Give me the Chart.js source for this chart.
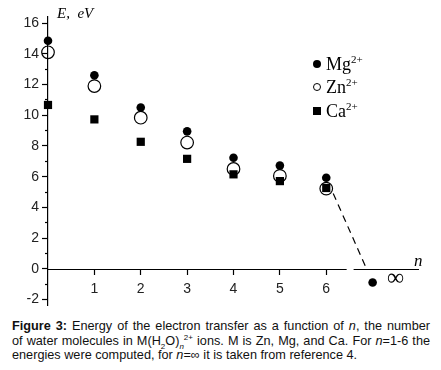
<!DOCTYPE html>
<html>
<head>
<meta charset="utf-8">
<script src="https://cdn.jsdelivr.net/npm/chart.js@4.4.0/dist/chart.umd.min.js"></script>
<style>
  html, body { margin: 0; padding: 0; background: #fff; }
  #wrap { position: relative; width: 441px; height: 370px; overflow: hidden; }
  #chartBox { position: absolute; left: 0; top: 2px; width: 441px; height: 315px; }
  .lbl { position: absolute; font-family: "Liberation Serif", "DejaVu Serif", serif; color: #000; white-space: nowrap; }
  #yTitle { left: 57px; top: 5px; font-size: 15px; font-style: italic; }
  #nTitle { left: 414px; top: 251px; font-size: 17px; font-style: italic; }
  #inf { left: 387px; top: 264px; font-size: 24px; }
  .leg { position: absolute; left: 311px; height: 20px; line-height: 20px; font-family: "Liberation Serif", serif; font-size: 18px; color: #000; white-space: nowrap; }
  .leg sup { font-size: 11px; vertical-align: 7px; line-height: 0; }
  .mk { position: absolute; left: 2px; top: 6px; box-sizing: border-box; }
  .mk.fill { width: 8px; height: 8px; border-radius: 50%; background: #000; }
  .mk.open { width: 8px; height: 8px; border-radius: 50%; border: 1px solid #000; }
  .mk.sq { width: 8px; height: 8px; background: #000; }
  .leg span.t { position: absolute; left: 15px; top: 0; }
  #caption { position: absolute; left: 12px; top: 319px; width: 418px; font-family: "Liberation Sans", Arial, sans-serif; font-size: 12.7px; line-height: 14.7px; color: #111; }
  #caption div { white-space: nowrap; }
  #caption .j { text-align: justify; text-align-last: justify; }
  #caption sub, #caption sup { font-size: 8px; line-height: 0; }
</style>
</head>
<body>
<div id="wrap">
  <div id="chartBox"><canvas id="energyChart"></canvas></div>
  <div class="lbl" id="yTitle">E,&nbsp; eV</div>
  <div class="lbl" id="nTitle">n</div>
  <div class="lbl" id="inf">∞</div>
  <div class="leg" style="top:54px"><i class="mk fill"></i><span class="t">Mg<sup>2+</sup></span></div>
  <div class="leg" style="top:77px"><i class="mk open"></i><span class="t">Zn<sup>2+</sup></span></div>
  <div class="leg" style="top:101px"><i class="mk sq"></i><span class="t">Ca<sup>2+</sup></span></div>
  <div id="caption">
    <div class="j"><b>Figure 3:</b> Energy of the electron transfer as a function of <i>n</i>, the number</div>
    <div class="j">of water molecules in M(H<sub>2</sub>O)<sub><i>n</i></sub><sup>2+</sup> ions. M is Zn, Mg, and Ca. For <i>n</i>=1-6 the</div>
    <div>energies were computed, for <i>n</i>=∞ it is taken from reference 4.</div>
  </div>
</div>
<script>
// number of water molecules
const nValues = [0, 1, 2, 3, 4, 5, 6];
// electron transfer energy, eV
const mgEnergy = [14.85, 12.6, 10.5, 8.95, 7.23, 6.72, 5.93];
const znEnergy = [14.1, 11.9, 9.84, 8.22, 6.5, 6.05, 5.22];
const caEnergy = [10.67, 9.73, 8.27, 7.16, 6.15, 5.71, 5.26];
// n = infinity (reference 4), drawn past n = 6
const nInf = 7;
const mgInfEnergy = -0.9;

const xTicks = [1, 2, 3, 4, 5, 6];
const yTicks = [-2, 0, 2, 4, 6, 8, 10, 12, 14, 16];
const yMinorTicks = [-1, 1, 3, 5, 7, 9, 11, 13, 15];

const axisBreak = [6.44, 6.59];

const toPoints = (xs, ys) => xs.map((x, i) => ({ x: x, y: ys[i] }));

// dashed guide from the n=6 Mg point to the n=inf point, trimmed at both ends
const lastIdx = nValues.length - 1;
const guideAt = t => ({
    x: nValues[lastIdx] + (nInf - nValues[lastIdx]) * t,
    y: mgEnergy[lastIdx] + (mgInfEnergy - mgEnergy[lastIdx]) * t
});

const brokenAxis = {
    id: 'brokenAxis',
    beforeDatasetsDraw(chart) {
        const { ctx, chartArea, scales } = chart;
        const py = Math.round(scales.y.getPixelForValue(0)) + 0.5;
        ctx.save();
        ctx.strokeStyle = '#000';
        ctx.lineWidth = 1.2;
        ctx.beginPath();
        ctx.moveTo(chartArea.left, py);
        ctx.lineTo(scales.x.getPixelForValue(axisBreak[0]), py);
        ctx.moveTo(scales.x.getPixelForValue(axisBreak[1]), py);
        ctx.lineTo(chartArea.right, py);
        ctx.stroke();
        ctx.restore();
    }
};

Chart.defaults.font.family = "'Liberation Sans', Arial, sans-serif";
Chart.defaults.font.size = 14;
Chart.defaults.color = '#222';

new Chart(document.getElementById('energyChart'), {
    type: 'scatter',
    data: {
        datasets: [{
            label: 'Ca2+',
            data: toPoints(nValues, caEnergy),
            pointStyle: 'rect',
            pointRadius: 5.8,
            backgroundColor: '#000',
            borderWidth: 0
        }, {
            label: 'Mg2+',
            data: toPoints(nValues, mgEnergy).concat([{ x: nInf, y: mgInfEnergy }]),
            pointStyle: 'circle',
            pointRadius: 4.3,
            backgroundColor: '#000',
            borderWidth: 0
        }, {
            label: 'Zn2+',
            data: toPoints(nValues, znEnergy),
            pointStyle: 'circle',
            pointRadius: 6.3,
            backgroundColor: 'rgba(0,0,0,0)',
            borderColor: '#000',
            borderWidth: 1.2
        }, {
            type: 'line',
            label: 'guide',
            data: [guideAt(0.15), guideAt(0.87)],
            borderColor: '#000',
            borderWidth: 1.2,
            borderDash: [7, 5],
            pointRadius: 0,
            fill: false
        }]
    },
    options: {
        responsive: true,
        maintainAspectRatio: false,
        animation: false,
        events: [],
        clip: false,
        layout: { padding: { left: 0, top: 15, right: 22, bottom: 10.3 } },
        plugins: {
            legend: { display: false },
            tooltip: { enabled: false }
        },
        scales: {
            x: {
                type: 'linear',
                min: 0,
                max: 8,
                position: { y: 0 },
                afterBuildTicks: (scale) => { scale.ticks = xTicks.map(v => ({ value: v })); },
                afterFit: (scale) => { scale.height = 0; },
                border: { display: false },
                grid: { drawOnChartArea: false, drawTicks: true, tickLength: 6, color: '#000', tickWidth: 1.2 },
                ticks: { padding: 6, autoSkip: false, maxRotation: 0 }
            },
            y: {
                type: 'linear',
                min: -2.4,
                max: 16.4,
                position: 'left',
                afterBuildTicks: (scale) => { scale.ticks = yTicks.map(v => ({ value: v })); },
                afterFit: (scale) => { scale.width = 48; },
                border: { display: true, color: '#000', width: 1.2 },
                grid: { drawOnChartArea: false, drawTicks: true, tickLength: 6, color: '#000', tickWidth: 1.2 },
                ticks: { padding: 3, autoSkip: false }
            },
            yMinor: {
                type: 'linear',
                min: -2.4,
                max: 16.4,
                position: { x: 0 },
                afterBuildTicks: (scale) => { scale.ticks = yMinorTicks.map(v => ({ value: v })); },
                afterFit: (scale) => { scale.width = 0; },
                border: { display: false },
                grid: { drawOnChartArea: false, drawTicks: true, tickLength: 3, color: '#000', tickWidth: 1.2 },
                ticks: { display: false }
            }
        }
    },
    plugins: [brokenAxis]
});
</script>
</body>
</html>
